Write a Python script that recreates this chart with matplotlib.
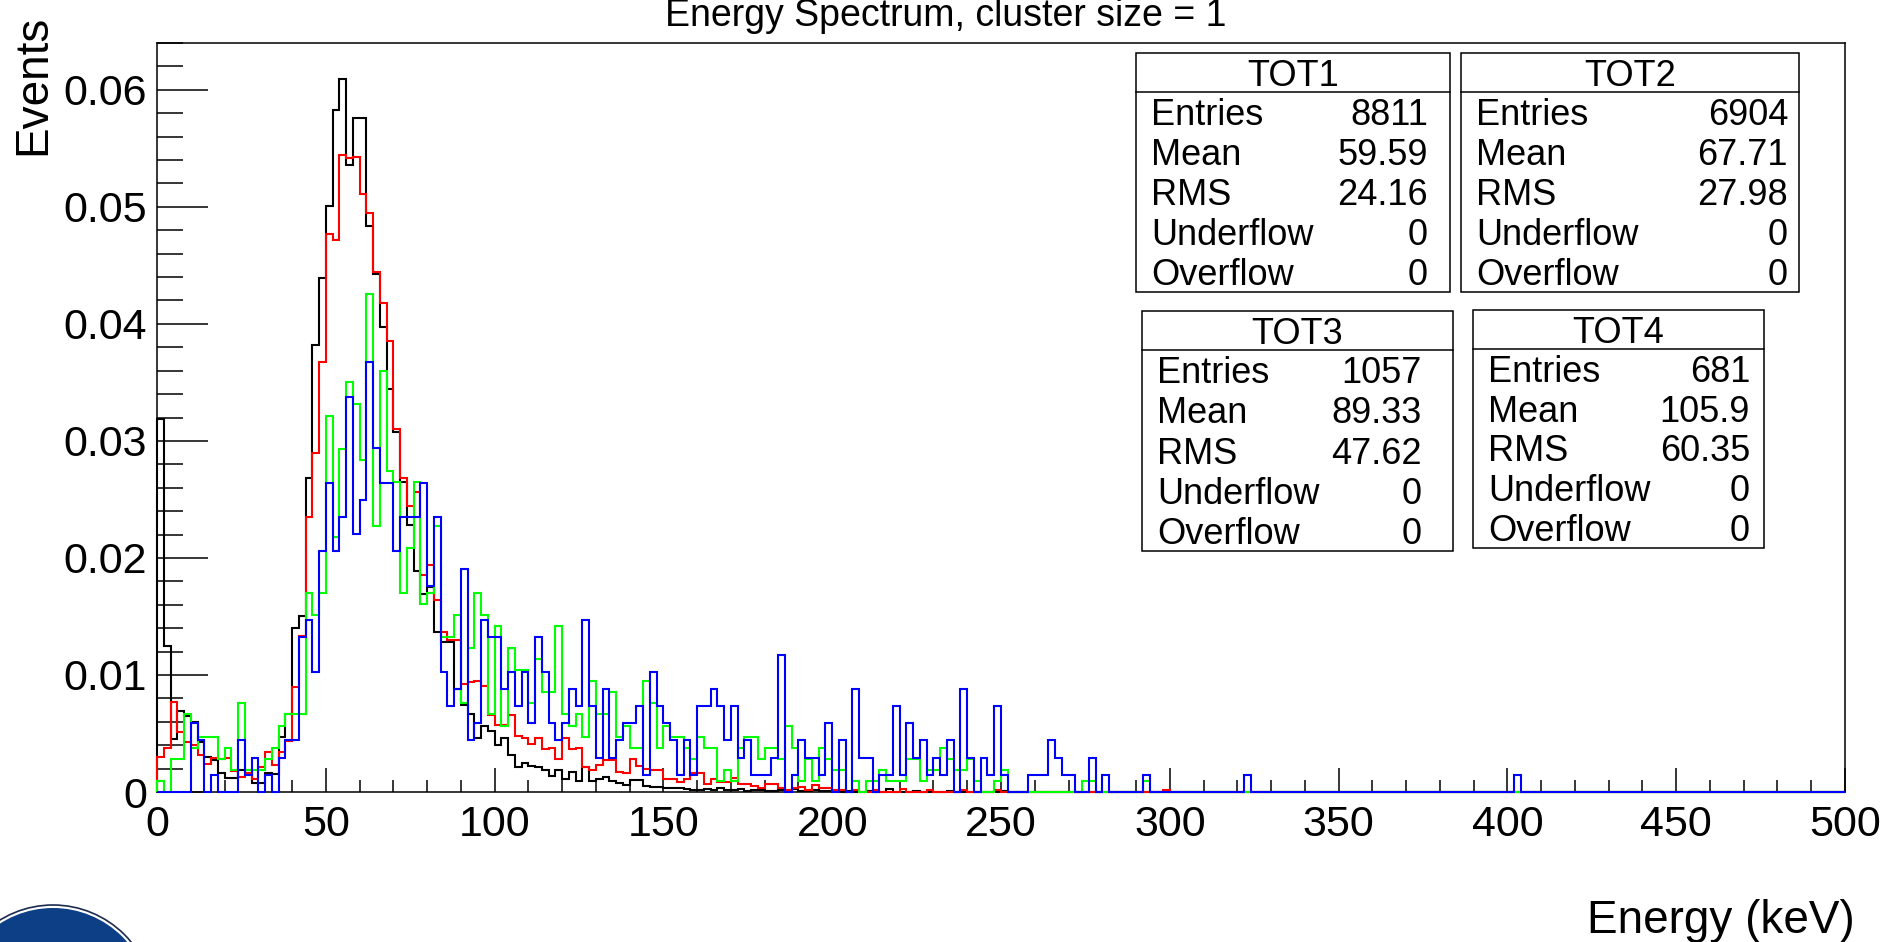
import numpy as np
import matplotlib
matplotlib.use("Agg")
import matplotlib.pyplot as plt
from matplotlib.patches import Rectangle, Circle

plt.rcParams['font.family'] = ['Liberation Sans', 'DejaVu Sans']

# 2 keV bins from 0 to 500 keV
bin_edges = np.arange(0, 502, 2)

# TOT1 / TOT2 in units of 1e-3 (normalised events)
tot1_permille = [31.9, 12.5, 4.5, 6.9, 6.5, 6.0, 4.3, 3.0, 2.7, 1.6,
                 1.2, 1.2, 1.85, 1.85, 0.8, 0.8, 1.6, 1.5, 4.7, 6.7,
                 14.0, 15.0, 26.8, 38.2, 43.9, 50.1, 58.3, 60.9, 53.6, 57.6,
                 57.6, 48.4, 44.3, 39.7, 34.4, 30.8, 26.5, 22.8, 18.9, 16.9,
                 17.5, 13.7, 12.8, 12.8, 8.8, 7.4, 6.7, 4.6, 5.6, 5.2,
                 4.0, 4.6, 3.2, 2.1, 2.5, 2.2, 2.1, 1.9, 1.4, 1.9,
                 1.1, 1.7, 0.9, 2.1, 0.9, 1.1, 1.3, 0.9, 0.8, 0.6,
                 1.05, 1.0, 0.5, 0.45, 0.45, 0.35, 0.3, 0.3, 0.25, 0.2,
                 0.2, 0.25, 0.15, 0.35, 0.2, 0.15, 0.25, 0.1, 0.2, 0.15,
                 0.1, 0.1, 0.2, 0.1, 0.25, 0.1, 0.1, 0.2, 0.1, 0.1,
                 0.1]
tot1_tail = {102: 0.11, 105: 0.11, 108: 0.23, 112: 0.11, 117: 0.11, 125: 0.11}

tot2_permille = [3.0, 3.8, 7.7, 5.1, 4.3, 4.0, 3.2, 2.4, 2.9, 2.8,
                 2.9, 1.8, 1.3, 1.6, 1.1, 2.1, 3.4, 2.3, 3.4, 4.4,
                 9.0, 13.3, 23.5, 29.0, 36.7, 47.7, 47.2, 54.4, 54.2, 54.3,
                 51.1, 49.5, 44.4, 41.8, 38.5, 31.0, 26.8, 24.4, 25.6, 18.5,
                 19.4, 16.4, 13.7, 13.0, 13.0, 9.2, 9.4, 9.5, 9.1, 6.6,
                 5.7, 5.7, 6.6, 4.8, 4.6, 4.1, 4.6, 3.7, 3.8, 2.8,
                 4.6, 3.7, 3.8, 2.1, 1.9, 2.3, 2.7, 2.7, 1.7, 1.6,
                 2.8, 2.2, 2.0, 1.9, 1.9, 1.1, 1.1, 0.85, 1.1, 1.6,
                 1.6, 0.66, 1.08, 0.85, 0.85, 1.2, 0.66, 0.66, 0.5, 0.3,
                 0.66, 0.66, 0.3, 0.15, 0.3, 0.45, 0.15, 0.6, 0.3, 0.3,
                 0.15, 0.15]
tot2_tail = {103: 0.145, 106: 0.145, 110: 0.29, 114: 0.145, 119: 0.145,
             124: 0.145, 149: 0.145}

tot3_counts = [1, 0, 3, 3, 7, 4, 5, 5, 5, 3,
               4, 2, 8, 2, 2, 2, 3, 4, 6, 7,
               7, 7, 18, 16, 18, 34, 23, 31, 37, 35,
               30, 45, 24, 38, 29, 28, 18, 22, 28, 17,
               18, 24, 14, 14, 16, 8, 13, 18, 16, 7,
               15, 6, 13, 11, 11, 8, 12, 9, 9, 15,
               7, 6, 7, 5, 10, 7, 7, 9, 5, 6,
               4, 4, 10, 8, 4, 6, 5, 5, 4, 3,
               5, 4, 4, 1, 2, 1, 4, 5, 5, 3,
               4, 4, 3, 6, 4, 1, 3, 1, 4, 3,
               2, 2, 0, 1, 0, 1, 1, 2, 1, 1,
               1, 3, 3, 1, 2, 2, 4, 3, 2, 2,
               3, 1, 0, 0, 1, 2, 0, 0, 0, 0,
               0, 0, 0, 0, 0, 0, 0, 1, 1, 0]
tot3_tail = {146: 1}

tot4_counts = [0, 0, 0, 0, 0, 4, 3, 0, 1, 0,
               0, 0, 3, 1, 2, 0, 1, 0, 2, 3,
               3, 9, 10, 7, 14, 18, 14, 16, 23, 15,
               17, 25, 20, 18, 18, 14, 16, 16, 16, 18,
               12, 16, 7, 5, 6, 13, 3, 4, 10, 9,
               9, 6, 7, 5, 7, 4, 9, 7, 4, 3,
               4, 6, 5, 10, 5, 2, 6, 2, 3, 4,
               4, 5, 1, 7, 5, 4, 3, 1, 3, 1,
               5, 5, 6, 5, 3, 5, 2, 3, 1, 1,
               1, 2, 8, 0, 1, 3, 2, 2, 1, 4,
               0, 3, 0, 6, 2, 2, 0, 1, 1, 5,
               1, 4, 2, 3, 1, 2, 1, 3, 0, 6,
               2, 0, 2, 1, 5, 1, 0, 0, 0, 1,
               1, 1, 3, 2, 1, 1, 0, 0, 2, 0,
               1]
tot4_tail = {146: 1, 161: 1, 201: 1}

names = ['TOT1', 'TOT2', 'TOT3', 'TOT4']
entries = [8811, 6904, 1057, 681]
means = ['59.59', '67.71', '89.33', '105.9']
rms_vals = ['24.16', '27.98', '47.62', '60.35']
underflows = [0, 0, 0, 0]
overflows = [0, 0, 0, 0]
colors = ['black', '#ff0000', '#00ff00', '#0000ff']


def fill_bins(head, tail, scale):
    out = np.zeros(len(bin_edges) - 1)
    out[:len(head)] = head
    for k, v in tail.items():
        out[k] = v
    return out * scale


series = [
    fill_bins(tot1_permille, tot1_tail, 1e-3),
    fill_bins(tot2_permille, tot2_tail, 1e-3),
    fill_bins(tot3_counts, tot3_tail, 1.0 / entries[2]),
    fill_bins(tot4_counts, tot4_tail, 1.0 / entries[3]),
]

W, H = 1885, 942
fig = plt.figure(figsize=(W / 100, H / 100), dpi=100)
ax = fig.add_axes([157 / W, 1 - 792 / H, (1845 - 157) / W, (792 - 43) / H])

for vals, col in zip(series, colors):
    ax.stairs(vals, bin_edges, baseline=0, color=col, lw=1.5,
              clip_on=False, zorder=3)

ax.set_xlim(0, 500)
ax.set_ylim(0, 0.064)
ax.set_xticks(np.arange(0, 501, 50))
ax.set_xticks(np.arange(0, 501, 10), minor=True)
ax.set_yticks(np.arange(0, 0.0601, 0.01))
ax.set_yticks(np.arange(0, 0.0641, 0.002), minor=True)
ax.set_yticklabels(['0'] + ['%.2f' % v for v in np.arange(0.01, 0.0601, 0.01)])
ax.set_xticklabels([str(v) for v in range(0, 501, 50)])

ax.tick_params(axis='x', which='major', direction='in', length=17, width=1.1,
               labelsize=31, pad=9)
ax.tick_params(axis='x', which='minor', direction='in', length=8.5, width=1.1)
ax.tick_params(axis='y', which='major', direction='in', length=36.5, width=1.1,
               labelsize=31, pad=7)
ax.tick_params(axis='y', which='minor', direction='in', length=18.5, width=1.1)
for sp in ax.spines.values():
    sp.set_linewidth(1.1)

# overlay in pixel coordinates for stat boxes, titles and logo
ov = fig.add_axes([0, 0, 1, 1], zorder=5)
ov.set_xlim(0, W)
ov.set_ylim(H, 0)
ov.axis('off')

ov.text(946, 26, 'Energy Spectrum, cluster size = 1', ha='center',
        va='baseline', fontsize=27)
ov.text(33, 15, 'Events', rotation=90, ha='center', va='top', fontsize=33)
ov.text(1855, 933, 'Energy (keV)', ha='right', va='baseline', fontsize=33)

# box frame (left, top, right, bottom) and right edge of the value column
boxes = [(1136, 53, 1450, 292), (1461, 53, 1799, 292),
         (1142, 311, 1453, 551), (1473, 310, 1764, 548)]
value_right = [1428, 1788, 1422, 1750]
row_labels = ['Entries', 'Mean', 'RMS', 'Underflow', 'Overflow']
for i, (x0, y0, x1, y1) in enumerate(boxes):
    ov.add_patch(Rectangle((x0, y0), x1 - x0, y1 - y0, fc='white',
                           ec='black', lw=1.1))
    hy = y0 + 39
    ov.plot([x0, x1], [hy, hy], color='black', lw=1.1)
    ov.text((x0 + x1) / 2, hy - 6, names[i], ha='center', va='baseline',
            fontsize=26)
    vals = [str(entries[i]), means[i], rms_vals[i], str(underflows[i]),
            str(overflows[i])]
    rh = (y1 - hy) / 5
    for j, (lab, v) in enumerate(zip(row_labels, vals)):
        yb = hy + rh * (j + 1) - 7
        ov.text(x0 + 15, yb, lab, ha='left', va='baseline', fontsize=26)
        ov.text(value_right[i], yb, v, ha='right', va='baseline', fontsize=26)

# partial logo in the lower left corner
ov.add_patch(Circle((53, 1006), 101, fc='white', ec='#1c2b4e', lw=1.2,
                    clip_on=False))
ov.add_patch(Circle((53, 1006), 98, fc='#0c3f86', ec='none', clip_on=False))

fig.savefig('out.png', dpi=100)
